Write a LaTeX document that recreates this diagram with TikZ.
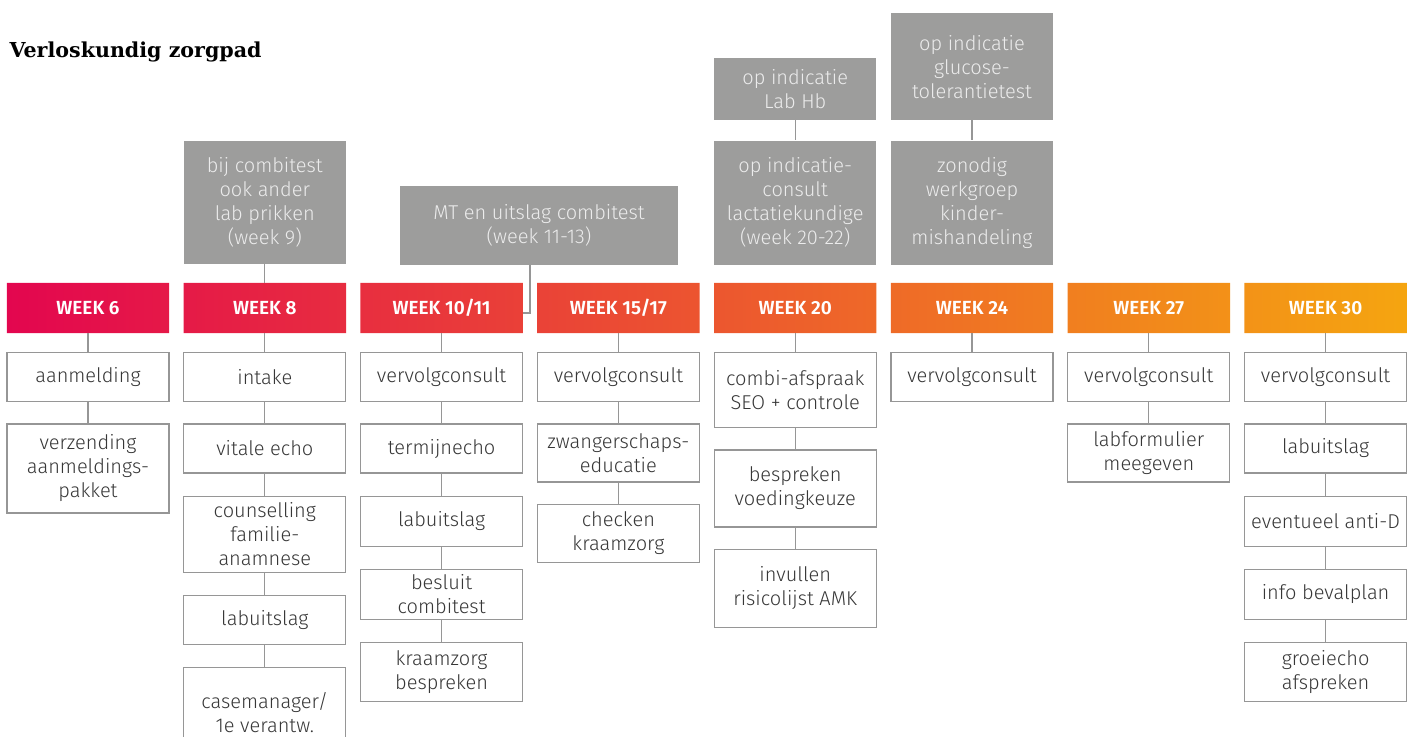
\documentclass[tikz,border=0pt]{standalone}
\usepackage{fontspec}
\setmainfont{Fira Sans Light}[BoldFont={Fira Sans SemiBold}]
\newfontfamily\titlefont{DejaVu Serif}
\usetikzlibrary{positioning,backgrounds}

\definecolor{boxline}{RGB}{150,150,150}
\definecolor{boxtext}{RGB}{55,55,55}
\definecolor{extrafill}{RGB}{157,157,156}
\definecolor{extratext}{RGB}{236,236,236}
\definecolor{wkstart}{RGB}{227,6,79}
\definecolor{wkmid}{RGB}{237,102,64}
\definecolor{wkend}{RGB}{245,165,16}

\begin{document}
\begin{tikzpicture}[x=1pt,y=-1pt,
    week/.style={minimum width=162pt,minimum height=50pt,inner sep=0pt,
                 text=white,font=\bfseries\fontsize{19}{22}\selectfont},
    task/.style={draw=boxline,line width=1.2pt,fill=white,minimum width=162pt,
                 minimum height=49pt,inner sep=1pt,align=center,text=boxtext,
                 font=\fontsize{20}{24}\selectfont},
    extra/.style={fill=extrafill,minimum width=162pt,inner sep=1pt,align=center,
                  text=extratext,font=\fontsize{20}{24}\selectfont},
    every edge/.style={draw=boxline,line width=1.2pt}]
  \useasboundingbox (0,0) rectangle (1410,736);

  \node[anchor=base west,font=\titlefont\bfseries\fontsize{20.6}{24}\selectfont]
    (title) at (6,57) {Verloskundig zorgpad};

  % week row
  \node[week] (w6) at (88,308) {WEEK 6};
  \node[week,right=14.4pt of w6] (w8) {WEEK 8};
  \node[week,right=14.4pt of w8] (w10) {WEEK 10/11};
  \node[week,right=14.4pt of w10] (w15) {WEEK 15/17};
  \node[week,right=14.4pt of w15] (w20) {WEEK 20};
  \node[week,right=14.4pt of w20] (w24) {WEEK 24};
  \node[week,right=14.4pt of w24] (w27) {WEEK 27};
  \node[week,right=14.4pt of w27] (w30) {WEEK 30};
  \begin{scope}[on background layer]
    \clip (w6.north west) rectangle (w6.south east)
          (w8.north west) rectangle (w8.south east)
          (w10.north west) rectangle (w10.south east)
          (w15.north west) rectangle (w15.south east)
          (w20.north west) rectangle (w20.south east)
          (w24.north west) rectangle (w24.south east)
          (w27.north west) rectangle (w27.south east)
          (w30.north west) rectangle (w30.south east);
    \shade[left color=wkstart,middle color=wkmid,right color=wkend]
      (w6.north west) rectangle (w30.south east);
  \end{scope}

  % grey boxes on top
  \node[extra,minimum height=123pt,above=19pt of w8] (x8)
    {bij combitest\\ook ander\\lab prikken\\(week 9)};
  \node[extra,minimum width=278pt,minimum height=79pt] (xmt) at (539,225.5)
    {MT en uitslag combitest\\(week 11-13)};
  \node[extra,minimum height=124pt,above=18pt of w20] (x20b)
    {op indicatie-\\consult\\lactatiekundige\\(week 20-22)};
  \node[extra,minimum height=62pt,above=20pt of x20b] (x20a)
    {op indicatie\\Lab Hb};
  \node[extra,minimum height=124pt,above=18pt of w24] (x24b)
    {zonodig\\werkgroep\\kinder-\\mishandeling};
  \node[extra,minimum height=107pt,above=20pt of x24b] (x24a)
    {op indicatie\\glucose-\\tolerantietest};

  % week 6
  \node[task,below=19pt of w6] (a1) {aanmelding};
  \node[task,minimum height=89pt,below=21pt of a1] (a2)
    {verzending\\aanmeldings-\\pakket};
  % week 8
  \node[task,below=19pt of w8] (b1) {intake};
  \node[task,below=21pt of b1] (b2) {vitale echo};
  \node[task,minimum height=76pt,below=22pt of b2] (b3)
    {counselling\\familie-\\anamnese};
  \node[task,below=22pt of b3] (b4) {labuitslag};
  \node[task,minimum height=89pt,below=22pt of b4] (b5)
    {casemanager/\\1e verantw.};
  % week 10/11
  \node[task,below=19pt of w10] (c1) {vervolgconsult};
  \node[task,below=21pt of c1] (c2) {termijnecho};
  \node[task,minimum height=50pt,below=22pt of c2] (c3) {labuitslag};
  \node[task,minimum height=50pt,below=22pt of c3] (c4) {besluit\\combitest};
  \node[task,minimum height=59pt,below=22pt of c4] (c5) {kraamzorg\\bespreken};
  % week 15/17
  \node[task,below=19pt of w15] (d1) {vervolgconsult};
  \node[task,minimum height=58pt,below=21pt of d1] (d2)
    {zwangerschaps-\\educatie};
  \node[task,minimum height=58pt,below=21pt of d2] (d3) {checken\\kraamzorg};
  % week 20
  \node[task,minimum height=75pt,below=19pt of w20] (e1)
    {combi-afspraak\\SEO + controle};
  \node[task,minimum height=77pt,below=21pt of e1] (e2) {bespreken\\voedingkeuze};
  \node[task,minimum height=78pt,below=21pt of e2] (e3)
    {invullen\\risicolijst AMK};
  % week 24
  \node[task,below=19pt of w24] (f1) {vervolgconsult};
  % week 27
  \node[task,below=19pt of w27] (g1) {vervolgconsult};
  \node[task,minimum height=58pt,below=21pt of g1] (g2) {labformulier\\meegeven};
  % week 30
  \node[task,below=19pt of w30] (h1) {vervolgconsult};
  \node[task,below=21pt of h1] (h2) {labuitslag};
  \node[task,minimum height=50pt,below=22pt of h2] (h3) {eventueel anti-D};
  \node[task,minimum height=50pt,below=22pt of h3] (h4) {info bevalplan};
  \node[task,minimum height=59pt,below=22pt of h4] (h5) {groeiecho\\afspreken};

  \path (x8) edge (w8)
        (x20a) edge (x20b)
        (x24a) edge (x24b)
        (w6) edge (a1) (a1) edge (a2)
        (w8) edge (b1) (b1) edge (b2) (b2) edge (b3) (b3) edge (b4) (b4) edge (b5)
        (w10) edge (c1) (c1) edge (c2) (c2) edge (c3) (c3) edge (c4) (c4) edge (c5)
        (w15) edge (d1) (d1) edge (d2) (d2) edge (d3)
        (w20) edge (e1) (e1) edge (e2) (e2) edge (e3)
        (w24) edge (f1)
        (w27) edge (g1) (g1) edge (g2)
        (w30) edge (h1) (h1) edge (h2) (h2) edge (h3) (h3) edge (h4) (h4) edge (h5);
  \draw[draw=boxline,line width=1.2pt]
    ([xshift=-9pt]xmt.south) |- ([yshift=-5pt]w10.east);
\end{tikzpicture}
\end{document}
